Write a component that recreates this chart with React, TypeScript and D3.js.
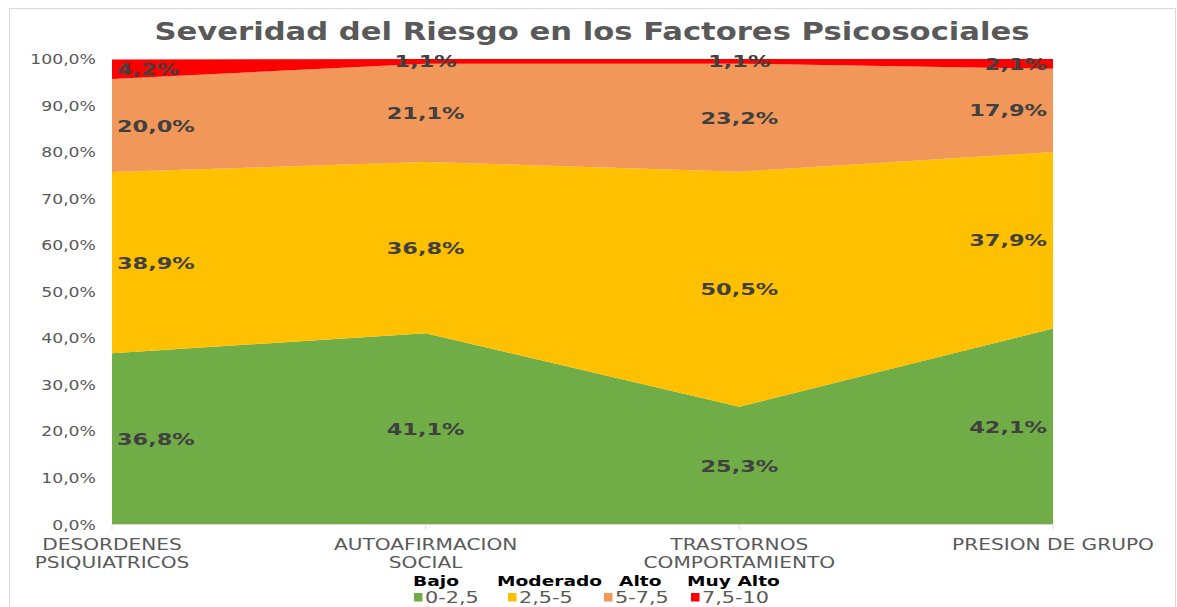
import React from "react";
import * as d3 from "d3";

const title = "Severidad del Riesgo en los Factores Psicosociales";
const categories = [
  ["DESORDENES", "PSIQUIATRICOS"],
  ["AUTOAFIRMACION", "SOCIAL"],
  ["TRASTORNOS", "COMPORTAMIENTO"],
  ["PRESION DE GRUPO"],
];
const seriesKeys = ["0-2,5", "2,5-5", "5-7,5", "7,5-10"];
const seriesNames = ["Bajo", "Moderado", "Alto", "Muy Alto"];
const bajo = [36.8, 41.1, 25.3, 42.1];
const moderado = [38.9, 36.8, 50.5, 37.9];
const alto = [20.0, 21.1, 23.2, 17.9];
const muyAlto = [4.2, 1.1, 1.1, 2.1];
const yTicks = [0, 10, 20, 30, 40, 50, 60, 70, 80, 90, 100];
const colors = ["#70AD47", "#FFC000", "#F1975A", "#FF0000"];

const W = 1177;
const H = 607;
const left = 112;
const right = 1053;
const top = 59;
const bottom = 524.5;
const SX = 1.27;

const legendNameX = [413, 497, 619, 687];
const legendSwatchX = [414, 508, 604, 691];

function fmt(v: number) {
  return d3.format(".1f")(v).replace(".", ",") + "%";
}

function SText(props: {
  x: number;
  y: number;
  anchor?: string;
  size: number;
  weight?: string | number;
  fill: string;
  sx?: number;
  children: React.ReactNode;
}) {
  const { x, y, anchor = "start", size, weight = "normal", fill, sx = SX, children } = props;
  return (
    <text
      transform={`translate(${x},${y}) scale(${sx},1)`}
      textAnchor={anchor}
      fontSize={size}
      fontWeight={weight}
      fill={fill}
      fontFamily="'DejaVu Sans', Verdana, sans-serif"
    >
      {children}
    </text>
  );
}

export default function App() {
  const data = categories.map((c, i) => ({
    idx: i,
    "0-2,5": bajo[i],
    "2,5-5": moderado[i],
    "5-7,5": alto[i],
    "7,5-10": muyAlto[i],
  }));
  const x = d3
    .scalePoint<number>()
    .domain(categories.map((_, i) => i))
    .range([left, right]);
  const y = d3.scaleLinear().domain([0, 100]).range([bottom, top]);
  const stack = d3.stack<any>().keys(seriesKeys);
  const layers = stack(data);
  const area = d3
    .area<any>()
    .x((d) => x(d.data.idx) as number)
    .y0((d) => y(d[0]))
    .y1((d) => y(Math.min(d[1], 100)));

  return (
    <svg
      width={W}
      height={H}
      style={{ position: "absolute", left: 0, top: 0, background: "#fff" }}
    >
      <rect x={9.5} y={8.5} width={1166} height={640} fill="#fff" stroke="#D9D9D9" />
      <text
        x={592}
        y={40}
        textAnchor="middle"
        fontSize={25}
        fontWeight="bold"
        fill="#595959"
        fontFamily="'DejaVu Sans', Verdana, sans-serif"
        textLength={875}
        lengthAdjust="spacingAndGlyphs"
      >
        {title}
      </text>

      {layers.map((layer, li) => (
        <path key={li} d={area(layer) as string} fill={colors[li]} />
      ))}

      {/* axis */}
      <line x1={left} x2={right} y1={bottom} y2={bottom} stroke="#D9D9D9" />
      {categories.map((_, i) => (
        <line
          key={i}
          x1={x(i)}
          x2={x(i)}
          y1={bottom}
          y2={bottom + 5}
          stroke="#D9D9D9"
        />
      ))}

      {yTicks.map((t) => (
        <SText key={t} x={96} y={y(t) + 5} anchor="end" size={13.7} fill="#595959" sx={1.26}>
          {fmt(t)}
        </SText>
      ))}

      {categories.map((lines, i) =>
        lines.map((ln, j) => (
          <SText
            key={i + "-" + j}
            x={x(i) as number}
            y={550 + j * 18}
            anchor="middle"
            size={16}
            fill="#595959"
            sx={1.26}
          >
            {ln}
          </SText>
        ))
      )}

      {layers.map((layer, li) =>
        layer.map((d: any, i: number) => {
          const mid = (d[0] + Math.min(d[1], 100)) / 2;
          const n = categories.length;
          const anchor = i === 0 ? "start" : i === n - 1 ? "end" : "middle";
          const px = i === 0 ? left + 5 : i === n - 1 ? right - 6 : (x(i) as number);
          return (
            <SText
              key={li + "-" + i}
              x={px}
              y={y(mid) + 6}
              anchor={anchor}
              size={16.5}
              weight="bold"
              fill="#404040"
              sx={1.36}
            >
              {fmt(d[1] - d[0])}
            </SText>
          );
        })
      )}

      {seriesKeys.map((k, i) => (
        <g key={k}>
          <SText x={legendNameX[i]} y={585.5} size={14} weight="bold" fill="#000" sx={1.33}>
            {seriesNames[i]}
          </SText>
          <rect x={legendSwatchX[i]} y={593} width={8.5} height={8.5} fill={colors[i]} />
          <SText x={legendSwatchX[i] + 11} y={603} size={16} fill="#595959" sx={1.3}>
            {k}
          </SText>
        </g>
      ))}
    </svg>
  );
}
